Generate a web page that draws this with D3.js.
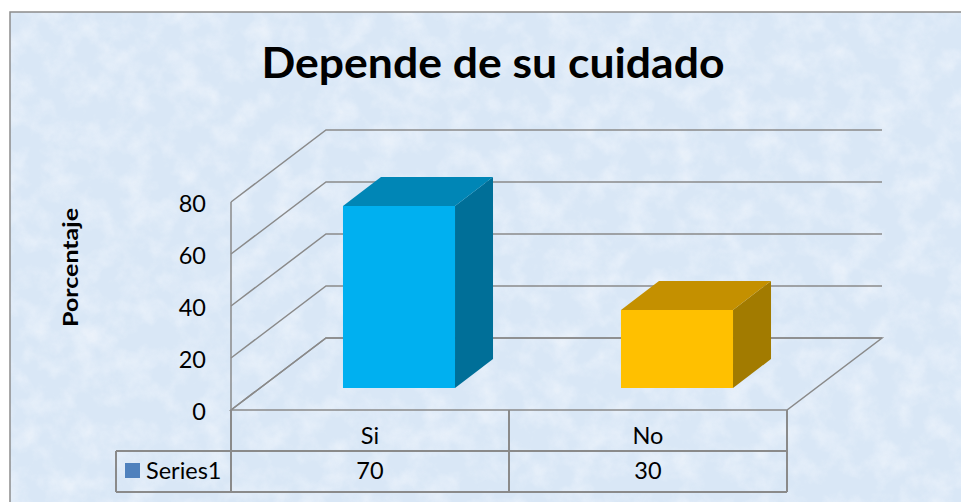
<!DOCTYPE html>
<html>
<head>
<meta charset="utf-8">
<script src="https://cdn.jsdelivr.net/npm/d3@7"></script>
<style>
  html, body { margin: 0; padding: 0; background: #ffffff; }
  svg { display: block; }
</style>
</head>
<body>
<div id="chart"></div>
<script>
// ---- data ----
const categories = ["Si", "No"];
const values = [70, 30];
const seriesName = "Series1";
const yTicks = [0, 20, 40, 60, 80];
const chartTitle = "Depende de su cuidado";
const yAxisTitle = "Porcentaje";

// ---- layout ----
const W = 961, H = 502;
const svg = d3.select("#chart").append("svg").attr("width", W).attr("height", H);
const font = "Lato, 'Open Sans', sans-serif";
const gridColor = "#8a8a8a";
const fs = 23.5;

// background texture
const defs = svg.append("defs");
const filt = defs.append("filter").attr("id", "tex").attr("x", 0).attr("y", 0).attr("width", "100%").attr("height", "100%");
filt.append("feTurbulence").attr("type", "fractalNoise").attr("baseFrequency", 0.04).attr("numOctaves", 4).attr("seed", 7).attr("result", "n");
filt.append("feColorMatrix").attr("in", "n").attr("type", "matrix")
  .attr("values", "0 0 0 0 0.94  0 0 0 0 0.96  0 0 0 0 0.99  1.6 0 0 0 -0.65").attr("result", "c");
filt.append("feComposite").attr("in", "c").attr("in2", "SourceGraphic").attr("operator", "in");

svg.append("rect").attr("x", 10).attr("y", 12).attr("width", W).attr("height", H)
  .attr("fill", "#d9e7f6");
svg.append("rect").attr("x", 10).attr("y", 12).attr("width", W).attr("height", H)
  .attr("fill", "#d9e7f6").attr("filter", "url(#tex)").attr("opacity", 0.7);
svg.append("rect").attr("x", 10).attr("y", 12).attr("width", W + 20).attr("height", H + 20)
  .attr("fill", "none").attr("stroke", "#8c8c8c").attr("stroke-width", 1.5);

// scales
const x = d3.scaleBand().domain(categories).range([231, 787]);
const y = d3.scaleLinear().domain([0, 80]).range([410, 202]);
const depth = { dx: 95, dy: -72 };      // back wall offset
const barOff = { dx: 29, dy: -22 };     // bar front offset from floor front
const barDepth = { dx: 38, dy: -29 };   // bar depth
const barW = x.bandwidth() * 0.403;

const g = svg.append("g");

// floor
const x0 = x.range()[0], x1 = x.range()[1];
g.append("path")
  .attr("d", `M${x0},${y(0)} L${x0 + depth.dx},${y(0) + depth.dy} L${x1 + depth.dx},${y(0) + depth.dy} L${x1},${y(0)} Z`)
  .attr("fill", "none").attr("stroke", gridColor).attr("stroke-width", 1.5);

// gridlines: left wall + back wall
yTicks.forEach(t => {
  g.append("path")
    .attr("d", `M${x0},${y(t)} L${x0 + depth.dx},${y(t) + depth.dy} L${x1 + depth.dx},${y(t) + depth.dy}`)
    .attr("fill", "none").attr("stroke", gridColor).attr("stroke-width", 1.5);
});
// front vertical axis
g.append("line").attr("x1", x0).attr("x2", x0).attr("y1", y(0)).attr("y2", y(80))
  .attr("stroke", gridColor).attr("stroke-width", 1.5);

// y tick labels
g.selectAll(".ytick").data(yTicks).enter().append("text")
  .attr("x", 206).attr("y", d => y(d) + 9.5)
  .attr("text-anchor", "end").attr("font-family", font).attr("font-size", fs)
  .attr("fill", "#000").text(d => d);

// y axis title
svg.append("text")
  .attr("transform", "translate(78,267.5) rotate(-90)")
  .attr("text-anchor", "middle").attr("font-family", font).attr("font-weight", "bold")
  .attr("font-size", 21).attr("textLength", 119).attr("lengthAdjust", "spacingAndGlyphs")
  .attr("fill", "#000").text(yAxisTitle);

// title
svg.append("text").attr("x", 493).attr("y", 78).attr("text-anchor", "middle")
  .attr("font-family", font).attr("font-weight", "bold").attr("font-size", 42)
  .attr("textLength", 463).attr("lengthAdjust", "spacingAndGlyphs")
  .attr("fill", "#000").text(chartTitle);

// bars
const colors = {
  Si: { front: "#00b0f0", top: "#0086b6", side: "#006f98" },
  No: { front: "#ffc000", top: "#c49000", side: "#a27b00" }
};
categories.forEach((c, i) => {
  const v = values[i];
  const left = x(c) + x.bandwidth() / 2 - barW / 2 + barOff.dx;
  const right = left + barW;
  const bottom = y(0) + barOff.dy;
  const top = bottom - (y(0) - y(v));
  const col = colors[c];
  g.append("path")
    .attr("d", `M${right},${top} L${right + barDepth.dx},${top + barDepth.dy} L${right + barDepth.dx},${bottom + barDepth.dy} L${right},${bottom}Z`)
    .attr("fill", col.side);
  g.append("path")
    .attr("d", `M${left},${top} L${left + barDepth.dx},${top + barDepth.dy} L${right + barDepth.dx},${top + barDepth.dy} L${right},${top}Z`)
    .attr("fill", col.top);
  g.append("rect").attr("x", left).attr("y", top).attr("width", barW).attr("height", bottom - top)
    .attr("fill", col.front);
});

// data table
const rowTop = y(0), rowMid = 451, rowBot = 492, legLeft = 116;
const tbl = svg.append("g").attr("stroke", gridColor).attr("stroke-width", 2).attr("fill", "none");
tbl.append("line").attr("x1", legLeft).attr("x2", x1).attr("y1", rowMid).attr("y2", rowMid);
tbl.append("line").attr("x1", legLeft).attr("x2", x1).attr("y1", rowBot).attr("y2", rowBot);
tbl.append("line").attr("x1", legLeft).attr("x2", legLeft).attr("y1", rowMid).attr("y2", rowBot);
[x0, ...categories.map(c => x(c) + x.bandwidth())].forEach(xx => {
  tbl.append("line").attr("x1", xx).attr("x2", xx).attr("y1", rowTop).attr("y2", rowBot);
});

// category labels and values
categories.forEach((c, i) => {
  const cx = x(c) + x.bandwidth() / 2;
  svg.append("text").attr("x", cx).attr("y", 444).attr("text-anchor", "middle")
    .attr("font-family", font).attr("font-size", fs).attr("fill", "#000").text(c);
  svg.append("text").attr("x", cx).attr("y", 479).attr("text-anchor", "middle")
    .attr("font-family", font).attr("font-size", fs).attr("fill", "#000").text(values[i]);
});

// legend key
svg.append("rect").attr("x", 125).attr("y", 463).attr("width", 15).attr("height", 15).attr("fill", "#4f81bd");
svg.append("text").attr("x", 146).attr("y", 479).attr("font-family", font).attr("font-size", fs)
  .attr("fill", "#000").text(seriesName);
</script>
</body>
</html>
